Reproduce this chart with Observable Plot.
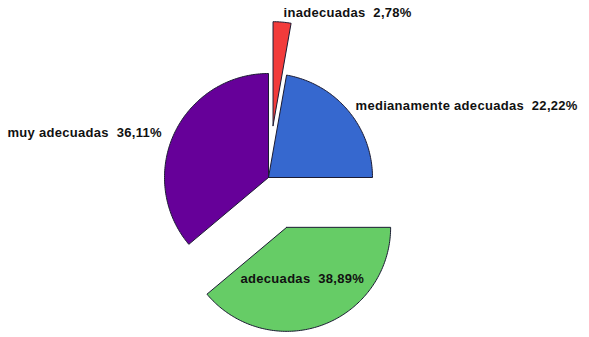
<!DOCTYPE html>
<html>
<head>
<meta charset="utf-8">
<script src="https://cdn.jsdelivr.net/npm/d3@7"></script>
<script src="https://cdn.jsdelivr.net/npm/@observablehq/plot@0.6"></script>
<style>
  html, body { margin: 0; padding: 0; background: #fff; }
</style>
</head>
<body>
<div id="chart"></div>
<script>
// ---- data ----
const categories = ["inadecuadas", "medianamente adecuadas", "adecuadas", "muy adecuadas"];
const percents = [2.78, 22.22, 38.89, 36.11];
const percentLabels = ["2,78%", "22,22%", "38,89%", "36,11%"];

// ---- styling / layout ----
const colors = ["#f23b3b", "#3668cf", "#66cc66", "#660099"];
const explode = [0.5, 0, 0.51, 0];           // offset in radius units
const labelPos = [                            // label anchor (radius units, start-anchored)
  [0.144, 1.587],
  [0.837, 0.692],
  [-0.269, -0.971],
  [-2.51, 0.433]
];

const W = 589, H = 337, CX = 268, CY = 177, R = 104;

const arcs = d3.pie().sort(null).value(d => d)(percents);
const pts = [];
arcs.forEach((a, i) => {
  const mid = (a.startAngle + a.endAngle) / 2;
  const ox = explode[i] * Math.sin(mid), oy = explode[i] * Math.cos(mid);
  const cat = categories[i];
  pts.push({cat, color: colors[i], x: ox, y: oy});
  const n = Math.max(2, Math.ceil((a.endAngle - a.startAngle) / (Math.PI / 180)));
  for (let k = 0; k <= n; k++) {
    const t = a.startAngle + (a.endAngle - a.startAngle) * k / n;
    pts.push({cat, color: colors[i], x: ox + Math.sin(t), y: oy + Math.cos(t)});
  }
  pts.push({cat, color: colors[i], x: ox, y: oy});
});

const labelData = categories.map((c, i) => ({
  text: c + "  " + percentLabels[i],
  x: labelPos[i][0],
  y: labelPos[i][1]
}));

const chart = Plot.plot({
  width: W,
  height: H,
  margin: 0,
  x: {domain: [-CX / R, (W - CX) / R], axis: null},
  y: {domain: [(CY - H) / R, CY / R], axis: null},
  color: {type: "identity"},
  style: {fontFamily: "'Liberation Sans', Arial, sans-serif", background: "#fff", letterSpacing: "0.3px"},
  marks: [
    Plot.line(pts, {x: "x", y: "y", z: "cat", fill: "color", stroke: "#1b1b33", strokeWidth: 1, curve: "linear", strokeLinejoin: "round"}),
    Plot.text(labelData, {x: "x", y: "y", text: "text", textAnchor: "start", fontSize: 13, fontWeight: "bold", fill: "#111"})
  ]
});
document.getElementById("chart").appendChild(chart);
</script>
</body>
</html>
